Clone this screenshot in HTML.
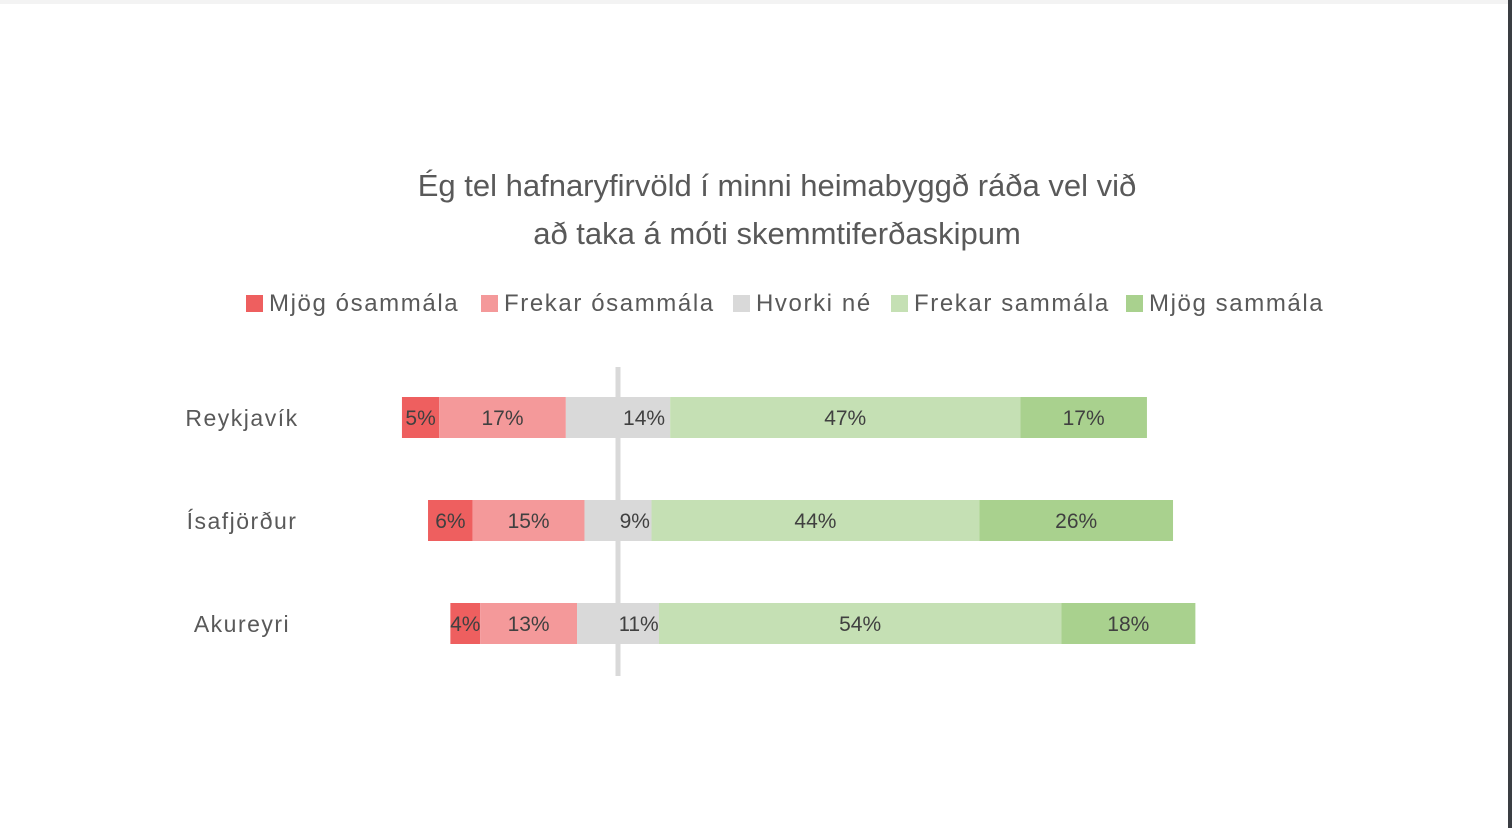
<!DOCTYPE html>
<html><head><meta charset="utf-8"><style>
html,body{margin:0;padding:0;background:#fff;width:1512px;height:828px;overflow:hidden}
svg{display:block;font-family:"Liberation Sans",sans-serif}
</style></head><body>
<svg id="chart" width="1512" height="828">
<rect x="0" y="0" width="1512" height="4" fill="#f3f3f3"/>
<rect x="1508" y="0" width="4" height="828" fill="#3a3d42"/>
<text x="777" y="196" text-anchor="middle" font-size="31" fill="#595959">Ég tel hafnaryfirvöld í minni heimabyggð ráða vel við</text>
<text x="777" y="244" text-anchor="middle" font-size="31" fill="#595959">að taka á móti skemmtiferðaskipum</text>
<g id="legend"></g>
<g id="bars"></g>
<g id="cats"></g>
</svg>
<script>
const categories = ["Reykjavík","Ísafjörður","Akureyri"];
const veryDisagree = [5,6,4];
const disagree = [17,15,13];
const neutral = [14,9,11];
const agree = [47,44,54];
const veryAgree = [17,26,18];
const seriesNames = ["Mjög ósammála","Frekar ósammála","Hvorki né","Frekar sammála","Mjög sammála"];
const colors = ["#ee5f5f","#f4999a","#d9d9d9","#c5e0b4","#a9d18e"];
const NS="http://www.w3.org/2000/svg";
const cx=618, k=7.45, barH=41, rowY=[397,500,603];
function xs(v){return v*k;}
function mk(t,a,p){const e=document.createElementNS(NS,t);for(const n in a)e.setAttribute(n,a[n]);p.appendChild(e);return e;}
const bars=document.getElementById('bars');
categories.forEach((c,i)=>{
  const y=rowY[i];
  const half=xs(neutral[i])/2;
  const segs=[];
  let left=cx-half-xs(disagree[i])-xs(veryDisagree[i]);
  segs.push([left,xs(veryDisagree[i]),0,veryDisagree[i],'very-disagree']);
  segs.push([left+xs(veryDisagree[i]),xs(disagree[i]),1,disagree[i],'disagree']);
  segs.push([cx-half,half*2,2,neutral[i],'neutral']);
  segs.push([cx+half,xs(agree[i]),3,agree[i],'agree']);
  segs.push([cx+half+xs(agree[i]),xs(veryAgree[i]),4,veryAgree[i],'very-agree']);
  segs.forEach(s=>{
    const r=mk('rect',{x:s[0],y:y,width:s[1],height:barH,fill:colors[s[2]]},bars);
    
    
    const lx = s[2]===2 ? cx+half/2 : s[0]+s[1]/2;
    const t=mk('text',{x:lx,y:y+28,'text-anchor':'middle','font-size':21,fill:'#404040'},bars);
    t.textContent=s[3]+'%';
    
    
  });
  const ct=mk('text',{x:242,y:y+29,'text-anchor':'middle','font-size':23,fill:'#595959','letter-spacing':'1.5'},document.getElementById('cats'));
  ct.textContent=c;
  
  
});
const ax=mk('rect',{x:cx-2.5,y:367,width:5,height:309,fill:'#d9d9d9'},bars);


const lg=document.getElementById('legend');
const lx=[246,481,733,891,1126];
seriesNames.forEach((n,i)=>{
  const g=mk('g',{},lg);
  
  
  mk('rect',{x:lx[i],y:295,width:17,height:17,fill:colors[i]},g);
  const t=mk('text',{x:lx[i]+23,y:311,'font-size':24,fill:'#595959','letter-spacing':'1.6'},g);
  t.textContent=n;
});
</script>
</body></html>
